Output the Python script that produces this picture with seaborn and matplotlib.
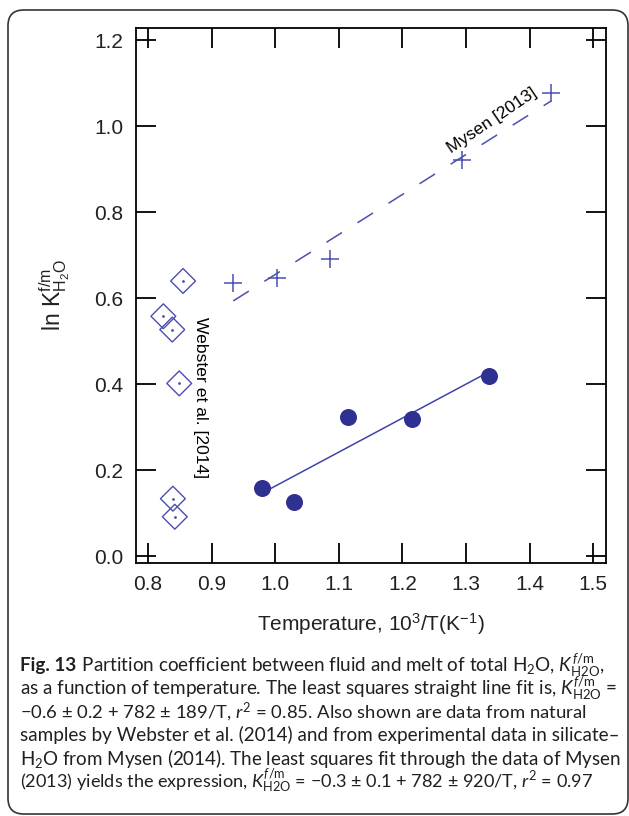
import matplotlib
matplotlib.use("Agg")
import matplotlib.pyplot as plt
import seaborn as sns
import numpy as np
import pandas as pd
from matplotlib.patches import FancyBboxPatch

# ---------------- data ----------------
this_x = [0.979, 1.030, 1.114, 1.215, 1.336]
this_y = [0.158, 0.127, 0.325, 0.320, 0.419]

webster_x = [0.855, 0.824, 0.838, 0.849, 0.839, 0.842]
webster_y = [0.640, 0.558, 0.527, 0.402, 0.134, 0.092]

mysen_x = [0.934, 1.003, 1.086, 1.294, 1.434]
mysen_y = [0.635, 0.647, 0.692, 0.922, 1.078]

xticks = [0.8, 0.9, 1.0, 1.1, 1.2, 1.3, 1.4, 1.5]
yticks = [0.0, 0.2, 0.4, 0.6, 0.8, 1.0, 1.2]

caption_lines = [
    r" Partition coefficient between fluid and melt of total H$_{\mathregular{2}}$O, $\mathit{K}_{\mathregular{H2O}}^{\mathit{f}\mathregular{/m}}$,",
    r"as a function of temperature. The least squares straight line fit is, $\mathit{K}_{\mathregular{H2O}}^{\mathit{f}\mathregular{/m}}$ =",
    r"−0.6 ± 0.2 + 782 ± 189/T, $\mathit{r}^{\mathregular{2}}$ = 0.85. Also shown are data from natural",
    r"samples by Webster et al. (2014) and from experimental data in silicate–",
    r"H$_{\mathregular{2}}$O from Mysen (2014). The least squares fit through the data of Mysen",
    r"(2013) yields the expression, $\mathit{K}_{\mathregular{H2O}}^{\mathit{f}\mathregular{/m}}$ = −0.3 ± 0.1 + 782 ± 920/T, $\mathit{r}^{\mathregular{2}}$ = 0.97",
]

df_this = pd.DataFrame({"x": this_x, "y": this_y})
df_web = pd.DataFrame({"x": webster_x, "y": webster_y})
df_mys = pd.DataFrame({"x": mysen_x, "y": mysen_y})

# ---------------- style ----------------
sns.set_style("ticks")
plt.rcParams["font.family"] = ["Liberation Sans", "DejaVu Sans"]
plt.rcParams["mathtext.fontset"] = "custom"
plt.rcParams["mathtext.rm"] = "Lato"
plt.rcParams["mathtext.it"] = "Lato:italic"
plt.rcParams["mathtext.bf"] = "Lato:bold"

W, H = 629, 816
fig = plt.figure(figsize=(W / 100, H / 100), dpi=100)
ax = fig.add_axes([136 / W, 1 - 563 / H, (606 - 136) / W, (563 - 28) / H])

dark = "#2e3192"
blue = "#4b4fae"

# fit lines
sns.regplot(data=df_this, x="x", y="y", ax=ax, ci=None, scatter=False,
            truncate=True, color="#3f43a8", line_kws={"lw": 1.1})
sns.regplot(data=df_mys, x="x", y="y", ax=ax, ci=None, scatter=False,
            truncate=True, color=blue, line_kws={"lw": 1.1, "ls": (0, (12, 12))})

# points
sns.scatterplot(data=df_this, x="x", y="y", ax=ax, s=150, color=dark,
                edgecolor=dark, linewidth=0, zorder=5)
sns.scatterplot(data=df_web, x="x", y="y", ax=ax, marker="D", s=160,
                facecolor="none", edgecolor=blue, linewidth=1.0, zorder=5)
sns.scatterplot(data=df_web, x="x", y="y", ax=ax, marker="o", s=4,
                color=blue, edgecolor=blue, linewidth=0, zorder=6)
sns.scatterplot(data=df_mys, x="x", y="y", ax=ax, marker="+", s=150,
                color=blue, linewidth=1.1, zorder=5)

# annotations
ax.text(1.341, 1.012, "Mysen [2013]", rotation=34, ha="center", va="center",
        fontsize=12.5, color="black", rotation_mode="anchor")
ax.text(0.882, 0.37, "Webster et al. [2014]", rotation=-90, ha="center",
        va="center", fontsize=12.6, color="black")

# axes
ax.set_xlim(0.781, 1.520)
ax.set_ylim(-0.0155, 1.228)
ax.set_xticks(xticks)
ax.set_yticks(yticks)
ax.set_xticklabels([f"{v:.1f}" for v in xticks])
ax.set_yticklabels([f"{v:.1f}" for v in yticks])
ax.tick_params(direction="in", length=14.5, width=1.3, top=True, right=True,
               labelsize=15, pad=9, color="black", labelcolor="#222222")
for s in ax.spines.values():
    s.set_linewidth(1.3)
    s.set_color("black")

ax.set_xlabel(r"Temperature, 10$^{\mathregular{3}}$/T(K$^{\mathregular{-1}}$)",
              fontsize=15, labelpad=12, color="#222222")
ax.set_ylabel(r"ln K$_{\mathregular{H_2O}}^{\mathregular{f/m}}$",
              fontsize=16.5, labelpad=16, color="#222222")

# caption
cap_font = ["Lato", "DejaVu Sans"]
cap_sizes = [13.6, 13.6, 13.3, 13.6, 13.5, 13.1]
ys = [665, 688, 712, 735, 758, 781]
t0 = fig.text(20 / W, 1 - ys[0] / H, "Fig. 13", fontsize=cap_sizes[0],
              fontweight="bold", family=cap_font, va="center", ha="left",
              color="#231f20")
fig.canvas.draw()
bb = t0.get_window_extent()
fig.text((bb.x1 + 1) / W, 1 - ys[0] / H, caption_lines[0], fontsize=cap_sizes[0],
         family=cap_font, va="center", ha="left", color="#231f20")
for line, yy, fs in zip(caption_lines[1:], ys[1:], cap_sizes[1:]):
    fig.text(20 / W, 1 - yy / H, line, fontsize=fs, family=cap_font,
             va="center", ha="left", color="#231f20")

# frame
frame = FancyBboxPatch((8 / W, 1 - 814 / H), (628 - 8) / W, (814 - 10) / H,
                       boxstyle="round,pad=0.0,rounding_size=0.025",
                       transform=fig.transFigure, fill=False,
                       edgecolor="#333333", linewidth=1.2, clip_on=False,
                       mutation_aspect=W / H)
fig.patches.append(frame)

fig.savefig("out.png", dpi=100)
